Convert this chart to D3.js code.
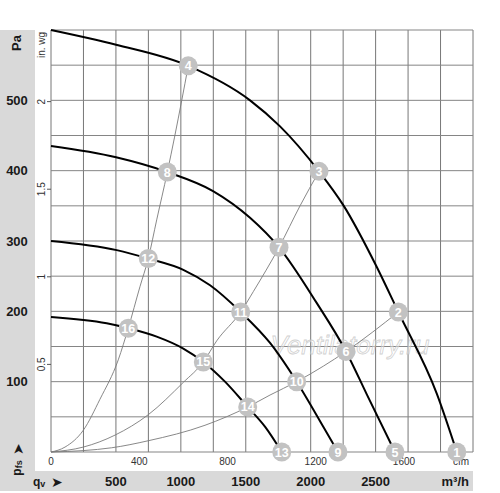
<!DOCTYPE html>
<html>
<head>
<meta charset="utf-8">
<script src="https://cdn.jsdelivr.net/npm/d3@7"></script>
<style>
body { margin: 0; background: #fff; }
text { font-family: "Liberation Sans", Arial, sans-serif; }
</style>
</head>
<body>
<script>
// tick labels
var paTicks = [100, 200, 300, 400, 500];
var m3hTicks = [500, 1000, 1500, 2000, 2500];
var cfmTicks = [0, 400, 800, 1200, 1600];
var inwgTicks = [0.5, 1, 1.5, 2];

// fan curves [m3/h, Pa]
var curve1 = [[0, 600], [501, 579], [1057, 549], [1533, 500], [1764, 463], [2064, 399],
    [2251, 351], [2509, 263], [2675, 199], [2971, 83], [3125, 0]];
var curve2 = [[0, 435], [501, 419], [896, 398], [1248, 371], [1533, 333], [1756, 291],
    [2046, 212], [2272, 143], [2432, 82], [2649, 0]];
var curve3 = [[0, 300], [506, 287], [749, 275], [1019, 259], [1225, 237], [1461, 199],
    [1687, 155], [1892, 100], [2097, 36], [2210, 0]];
var curve4 = [[0, 192], [429, 183], [595, 176], [814, 164], [1019, 147], [1173, 128],
    [1340, 100], [1515, 64], [1648, 36], [1777, 0]];

// system lines through the operating points
var sysA = [[0, 0], [108, 7], [249, 31], [377, 75], [518, 131], [595, 176], [685, 235], [749, 275],
    [814, 330], [896, 398], [1007, 500], [1057, 549]];
var sysB = [[0, 0], [249, 7], [493, 24], [749, 53], [1019, 99], [1173, 128], [1276, 158], [1461, 199],
    [1558, 228], [1756, 291], [1918, 350], [2064, 399]];
var sysC = [[0, 0], [249, 2], [467, 6], [749, 16], [1186, 38], [1515, 64], [1687, 81], [1892, 100],
    [2097, 122], [2272, 143], [2675, 199]];

// numbered operating points
var pointNums = [1, 2, 3, 4, 5, 6, 7, 8, 9, 10, 11, 12, 13, 14, 15, 16];
var pointQ = [3125, 2675, 2064, 1057, 2649, 2272, 1756, 896, 2210, 1892, 1461, 749, 1777, 1515, 1173, 595];
var pointPa = [0, 199, 399, 549, 0, 143, 291, 398, 0, 100, 199, 275, 0, 64, 128, 176];

function drawChart() {
    var svgWidth = 500, svgHeight = 493;
    var pLeft = 51, pTop = 30, pRight = 473, pBottom = 452;

    var svg = d3.select("body").append("svg")
        .attr("width", svgWidth)
        .attr("height", svgHeight);

    var x = d3.scaleLinear().domain([0, 3250]).range([pLeft, pRight]);
    var y = d3.scaleLinear().domain([0, 600]).range([pBottom, pTop]);
    // secondary units
    var xCfm = d3.scaleLinear().domain([0, 3250 / 1.699]).range([pLeft, pRight]);
    var yIn = d3.scaleLinear().domain([0, 600 / 249.09]).range([pBottom, pTop]);

    // grey frame bands
    svg.append("rect").attr("x", 0).attr("y", 30).attr("width", 35).attr("height", 461).attr("fill", "#d9d9d9");
    svg.append("rect").attr("x", 0).attr("y", 471).attr("width", 473).attr("height", 20).attr("fill", "#d9d9d9");

    // grid
    var grid = svg.append("g");
    grid.selectAll(".gx").data(d3.range(0, 3251, 250)).enter().append("line")
        .attr("x1", function(d) { return x(d); }).attr("x2", function(d) { return x(d); })
        .attr("y1", pTop).attr("y2", pBottom)
        .attr("stroke", "#777").attr("stroke-width", 1);
    grid.selectAll(".gy").data(d3.range(0, 601, 50)).enter().append("line")
        .attr("x1", pLeft).attr("x2", pRight)
        .attr("y1", function(d) { return y(d); }).attr("y2", function(d) { return y(d); })
        .attr("stroke", "#858585").attr("stroke-width", 1);

    // axis labels in the grey bands
    svg.selectAll(".pa").data(paTicks).enter().append("text")
        .attr("x", 17).attr("y", function(d) { return y(d); })
        .attr("dy", "0.35em").attr("text-anchor", "middle")
        .attr("font-size", 13).attr("font-weight", "bold").attr("fill", "#1a1a1a")
        .text(function(d) { return d; });
    svg.append("text").attr("transform", "translate(21,43) rotate(-90)")
        .attr("text-anchor", "middle").attr("font-size", 13).attr("font-weight", "bold").attr("fill", "#1a1a1a")
        .text("Pa");

    var pfs = svg.append("text").attr("transform", "translate(21,468) rotate(-90)")
        .attr("text-anchor", "middle").attr("font-size", 12).attr("font-weight", "bold").attr("fill", "#1a1a1a");
    pfs.append("tspan").text("p");
    pfs.append("tspan").attr("font-size", 9).attr("dy", 1).text("fs");
    svg.append("text").attr("transform", "translate(22.5,449) rotate(-90)")
        .attr("text-anchor", "middle").attr("font-size", 14).attr("fill", "#1a1a1a").text("\u27A4");

    svg.selectAll(".m3h").data(m3hTicks).enter().append("text")
        .attr("x", function(d) { return x(d); }).attr("y", 486)
        .attr("text-anchor", "middle")
        .attr("font-size", 13).attr("font-weight", "bold").attr("fill", "#1a1a1a")
        .text(function(d) { return d; });
    var qv = svg.append("text").attr("x", 33).attr("y", 486)
        .attr("font-size", 12).attr("font-weight", "bold").attr("fill", "#1a1a1a");
    qv.append("tspan").text("q");
    qv.append("tspan").attr("font-size", 9).attr("dy", 1).text("v");
    svg.append("text").attr("x", 51).attr("y", 487).attr("font-size", 14).attr("fill", "#1a1a1a").text("\u27A4");
    svg.append("text").attr("x", 469).attr("y", 486).attr("text-anchor", "end")
        .attr("font-size", 13).attr("font-weight", "bold").attr("fill", "#1a1a1a").text("m\u00B3/h");

    // secondary axis labels
    svg.selectAll(".cfm").data(cfmTicks).enter().append("text")
        .attr("x", function(d) { return xCfm(d); }).attr("y", 465)
        .attr("text-anchor", "middle").attr("font-size", 10).attr("fill", "#333")
        .text(function(d) { return d; });
    svg.append("text").attr("x", 461).attr("y", 465).attr("text-anchor", "middle")
        .attr("font-size", 10).attr("fill", "#333").text("cfm");

    svg.selectAll(".inwg").data(inwgTicks).enter().append("text")
        .attr("transform", function(d) { return "translate(45," + yIn(d) + ") rotate(-90)"; })
        .attr("text-anchor", "middle").attr("font-size", 10).attr("fill", "#333")
        .text(function(d) { return d; });
    svg.selectAll(".inwgTick").data(inwgTicks).enter().append("line")
        .attr("x1", 47).attr("x2", 51)
        .attr("y1", function(d) { return yIn(d); }).attr("y2", function(d) { return yIn(d); })
        .attr("stroke", "#555");
    svg.append("text").attr("transform", "translate(45,45) rotate(-90)")
        .attr("text-anchor", "middle").attr("font-size", 10).attr("fill", "#333").text("in. wg");

    // watermark
    svg.append("text").attr("x", 350).attr("y", 354).attr("text-anchor", "middle")
        .attr("font-size", 26).attr("font-style", "italic")
        .attr("fill", "#fff").attr("fill-opacity", 0.4)
        .attr("stroke", "#c4c4c4").attr("stroke-width", 0.8).attr("stroke-opacity", 0.8)
        .text("Ventilatorry.ru");

    var line = d3.line()
        .x(function(d) { return x(d[0]); })
        .y(function(d) { return y(d[1]); })
        .curve(d3.curveMonotoneX);

    // system lines
    [sysA, sysB, sysC].forEach(function(s) {
        svg.append("path").datum(s)
            .attr("fill", "none").attr("stroke", "#7a7a7a").attr("stroke-width", 0.9)
            .attr("d", line);
    });

    // fan curves
    [curve1, curve2, curve3, curve4].forEach(function(c) {
        svg.append("path").datum(c)
            .attr("fill", "none").attr("stroke", "#000").attr("stroke-width", 2)
            .attr("stroke-linejoin", "round")
            .attr("d", line);
    });

    // operating points
    var pts = svg.selectAll(".pt").data(pointNums).enter().append("g")
        .attr("transform", function(d, i) { return "translate(" + x(pointQ[i]) + "," + y(pointPa[i]) + ")"; });
    pts.append("circle").attr("r", 9.5).attr("fill", "#c2c2c2");
    pts.append("text").attr("text-anchor", "middle").attr("dy", "0.36em")
        .attr("font-size", 12.5).attr("font-weight", "bold").attr("fill", "#fff")
        .text(function(d) { return d; });
}

drawChart();
</script>
</body>
</html>
